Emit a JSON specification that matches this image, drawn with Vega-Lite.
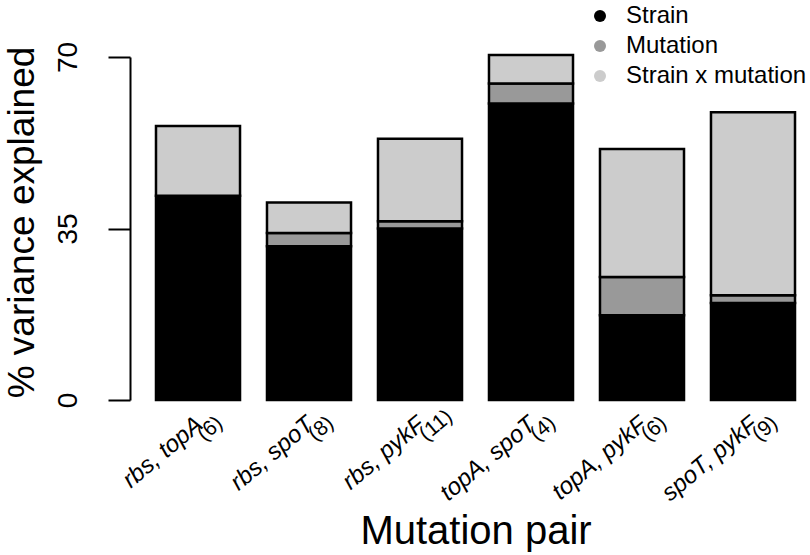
{
  "$schema": "https://vega.github.io/schema/vega-lite/v6.json",
  "width": 651,
  "height": 343,
  "autosize": {"type": "none"},
  "padding": {"left": 150, "top": 57, "right": 9, "bottom": 155},
  "config": {"view": {"stroke": null}, "font": "Liberation Sans"},
  "datasets": {
    "bars": [
      {"pair": "rbs, topA", "component": "Strain", "value": 41.7},
      {"pair": "rbs, topA", "component": "Strain x mutation", "value": 14.2},
      {"pair": "rbs, spoT", "component": "Strain", "value": 31.4},
      {"pair": "rbs, spoT", "component": "Mutation", "value": 2.7},
      {"pair": "rbs, spoT", "component": "Strain x mutation", "value": 6.2},
      {"pair": "rbs, pykF", "component": "Strain", "value": 35.0},
      {"pair": "rbs, pykF", "component": "Mutation", "value": 1.5},
      {"pair": "rbs, pykF", "component": "Strain x mutation", "value": 16.8},
      {"pair": "topA, spoT", "component": "Strain", "value": 60.5},
      {"pair": "topA, spoT", "component": "Mutation", "value": 4.1},
      {"pair": "topA, spoT", "component": "Strain x mutation", "value": 5.8},
      {"pair": "topA, pykF", "component": "Strain", "value": 17.3},
      {"pair": "topA, pykF", "component": "Mutation", "value": 7.8},
      {"pair": "topA, pykF", "component": "Strain x mutation", "value": 26.1},
      {"pair": "spoT, pykF", "component": "Strain", "value": 19.8},
      {"pair": "spoT, pykF", "component": "Mutation", "value": 1.6},
      {"pair": "spoT, pykF", "component": "Strain x mutation", "value": 37.3}
    ],
    "pairs": [
      {"pair": "rbs, topA", "n": "(6)"},
      {"pair": "rbs, spoT", "n": "(8)"},
      {"pair": "rbs, pykF", "n": "(11)"},
      {"pair": "topA, spoT", "n": "(4)"},
      {"pair": "topA, pykF", "n": "(6)"},
      {"pair": "spoT, pykF", "n": "(9)"}
    ]
  },
  "layer": [
    {
      "data": {"name": "bars"},
      "transform": [
        {"calculate": "indexof(['Strain', 'Mutation', 'Strain x mutation'], datum.component)", "as": "stackRank"}
      ],
      "mark": {"type": "bar", "stroke": "black", "strokeWidth": 2.5},
      "encoding": {
        "x": {
          "field": "pair", "type": "nominal",
          "sort": ["rbs, topA", "rbs, spoT", "rbs, pykF", "topA, spoT", "topA, pykF", "spoT, pykF"],
          "scale": {"paddingInner": 0.243, "paddingOuter": 0.054},
          "axis": {
            "title": "Mutation pair", "labelAngle": -40, "labelAlign": "right", "labelBaseline": "top",
            "labelFontStyle": "italic", "labelFontSize": 24, "labelPadding": 12, "labelOffset": -6,
            "ticks": false, "domain": false,
            "labelColor": "black", "titleFontSize": 40, "titleFontWeight": "normal", "titleColor": "black",
            "titleY": 143, "titleBaseline": "alphabetic"
          }
        },
        "y": {
          "field": "value", "type": "quantitative", "stack": "zero",
          "scale": {"domain": [0, 70], "nice": false},
          "axis": {
            "values": [0, 35, 70], "offset": 20, "tickSize": 22, "tickWidth": 2, "domainWidth": 2,
            "domainColor": "black", "tickColor": "black", "grid": false,
            "labelAngle": -90, "labelAlign": "center", "labelBaseline": "alphabetic", "labelFontSize": 28,
            "labelPadding": 32, "labelColor": "black",
            "title": "% variance explained", "titleFontSize": 37, "titleFontWeight": "normal", "titleColor": "black",
            "titleX": -97, "titleY": 165, "titleAngle": -90, "titleBaseline": "alphabetic", "titleAlign": "center"
          }
        },
        "order": {"field": "stackRank", "type": "quantitative", "sort": "ascending"},
        "color": {
          "field": "component", "type": "nominal",
          "sort": ["Strain", "Mutation", "Strain x mutation"],
          "scale": {"domain": ["Strain", "Mutation", "Strain x mutation"], "range": ["#000000", "#999999", "#cccccc"]},
          "legend": {
            "title": null, "orient": "none", "legendX": 438, "legendY": -53, "symbolType": "circle",
            "symbolSize": 144, "symbolStrokeWidth": 0, "labelFontSize": 24, "labelOffset": 14, "rowPadding": 6,
            "padding": 0, "labelColor": "black", "labelLimit": 300
          }
        }
      }
    },
    {
      "data": {"name": "pairs"},
      "mark": {"type": "text", "angle": 320, "align": "left", "baseline": "top", "fontSize": 21, "dx": -22, "dy": 19, "color": "black"},
      "encoding": {
        "x": {"field": "pair", "type": "nominal", "sort": ["rbs, topA", "rbs, spoT", "rbs, pykF", "topA, spoT", "topA, pykF", "spoT, pykF"]},
        "y": {"datum": 0},
        "text": {"field": "n"}
      }
    }
  ]
}
